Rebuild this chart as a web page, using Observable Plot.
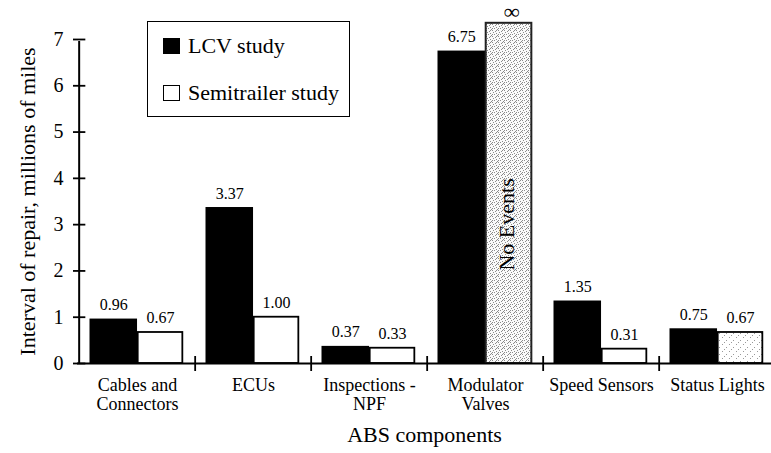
<!DOCTYPE html>
<html>
<head>
<meta charset="utf-8">
<script src="https://cdn.jsdelivr.net/npm/d3@7"></script>
<script src="https://cdn.jsdelivr.net/npm/@observablehq/plot@0.6"></script>
<style>
  html, body { margin: 0; padding: 0; background: #fff; }
  #wrap { position: relative; width: 771px; height: 453px; overflow: hidden; font-family: "Liberation Serif", "Times New Roman", serif; }
  #legend { position: absolute; left: 147px; top: 21px; width: 201px; height: 94px; border: 1.6px solid #000; background: #fff; }
  .item { position: absolute; left: 15px; display: flex; align-items: center; font-size: 22px; color: #000; }
  .sw { width: 17px; height: 16px; margin-right: 8px; box-sizing: border-box; }
</style>
</head>
<body>
<div id="wrap">
  <div id="chart"></div>
  <div id="legend">
    <div class="item" style="top:11px"><span class="sw" style="background:#000"></span><span id="lg0"></span></div>
    <div class="item" style="top:58px"><span class="sw" style="border:1.3px solid #000;background:#fff"></span><span id="lg1"></span></div>
  </div>
</div>
<script>
// ---- data ----
const categories = ["Cables and Connectors", "ECUs", "Inspections - NPF", "Modulator Valves", "Speed Sensors", "Status Lights"];
const categoryLabels = ["Cables and\nConnectors", "ECUs", "Inspections -\nNPF", "Modulator\nValves", "Speed Sensors", "Status Lights"];
const lcvValues = [0.96, 3.37, 0.37, 6.75, 1.35, 0.75];
const semiValues = [0.67, 1.00, 0.33, null, 0.31, 0.67];
const lcvLabels = ["0.96", "3.37", "0.37", "6.75", "1.35", "0.75"];
const semiLabels = ["0.67", "1.00", "0.33", null, "0.31", "0.67"];
const seriesNames = ["LCV study", "Semitrailer study"];
const yTicks = [0, 1, 2, 3, 4, 5, 6, 7];
const noEventsCategory = "Modulator Valves";
const noEventsTop = 7.35;          // open-ended bar drawn past the top of the axis
const noEventsText = "No Events";
const infinityText = "\u221E";
const stippledCategory = "Status Lights";
const xTitle = "ABS components";
const yTitle = "Interval of repair, millions of miles";

// ---- layout constants ----
const W = 771, H = 453;
const xRange = [77, 777];
const step = (xRange[1] - xRange[0]) / categories.length;
const lcvL = 10.5, lcvR = 58.7, semiL = 58.7, semiR = 104;
const lcvDx = (lcvL + lcvR) / 2 - step / 2;
const semiDx = (semiL + semiR) / 2 - step / 2;
const font = "Liberation Serif, Times New Roman, serif";

document.getElementById("lg0").textContent = seriesNames[0];
document.getElementById("lg1").textContent = seriesNames[1];

const rows = categories.map((c, i) => ({
  category: c, label: categoryLabels[i],
  lcv: lcvValues[i], semi: semiValues[i],
  lcvLabel: lcvLabels[i], semiLabel: semiLabels[i]
}));
const semiRows = rows.filter(d => d.semi != null);
const noEventRows = rows.filter(d => d.category === noEventsCategory);

const plot = Plot.plot({
  width: W, height: H,
  marginTop: 39, marginBottom: 90, marginLeft: 77, marginRight: 0,
  style: { fontFamily: font, background: "white", color: "black", overflow: "visible" },
  x: { domain: categories, range: xRange, padding: 0, axis: null },
  y: { domain: [0, 7], axis: null },
  marks: [
    // LCV bars
    Plot.barY(rows, { x: "category", y: "lcv", fill: "black", insetLeft: lcvL, insetRight: step - lcvR }),
    // Semitrailer bars
    Plot.barY(semiRows, {
      x: "category", y: "semi",
      fill: d => d.category === stippledCategory ? "url(#stipLight)" : "white",
      stroke: "black", strokeWidth: 1.8,
      insetLeft: semiL, insetRight: step - semiR
    }),
    // No events bar
    Plot.barY(noEventRows, {
      x: "category", y: () => noEventsTop,
      fill: "url(#stipDense)", stroke: "#222", strokeWidth: 2,
      insetLeft: semiL, insetRight: step - semiR - 1
    }),
    // value labels
    Plot.text(rows, { x: "category", y: "lcv", text: "lcvLabel", dx: lcvDx, dy: -9, lineAnchor: "bottom", fontSize: 16, fill: "black" }),
    Plot.text(semiRows, { x: "category", y: "semi", text: "semiLabel", dx: semiDx, dy: -9, lineAnchor: "bottom", fontSize: 16, fill: "black" }),
    Plot.text(noEventRows, { x: "category", y: () => noEventsTop, text: () => infinityText, dx: semiDx + 3, dy: -4, lineAnchor: "bottom", fontSize: 22, fontWeight: "bold", fill: "black" }),
    Plot.text(noEventRows, { x: "category", y: () => noEventsTop / 2, text: () => noEventsText, dx: semiDx - 2, dy: 31, rotate: -90, fontSize: 22, fill: "black" }),
    // axes lines
    Plot.ruleY([0], { y: d => d, stroke: "black", strokeWidth: 2 }),
    Plot.ruleX([categories[0]], { x: d => d, dx: -step / 2, y1: 0, y2: 7, stroke: "black", strokeWidth: 2, insetBottom: -2 }),
    // y ticks crossing the axis
    Plot.tickY(yTicks, { y: d => d, x: () => categories[0], insetLeft: -6, insetRight: step - 7, stroke: "black", strokeWidth: 1.8 }),
    // category boundary ticks
    Plot.ruleX(categories.slice(1), { x: d => d, dx: -step / 2, y1: 0, y2: 0, insetTop: -7, insetBottom: -8, stroke: "black", strokeWidth: 1.8 }),
    // y tick labels
    Plot.text(yTicks, { y: d => d, text: d => String(d), frameAnchor: "left", dx: -14, textAnchor: "end", fontSize: 20, fill: "black" }),
    // category labels
    Plot.text(rows, { x: "category", text: "label", frameAnchor: "bottom", dy: 13, lineAnchor: "top", lineHeight: 1.1, fontSize: 18, fill: "black" }),
    // titles
    Plot.text([xTitle], { text: d => d, frameAnchor: "bottom", dy: 78, fontSize: 22, fill: "black" }),
    Plot.text([yTitle], { text: d => d, frameAnchor: "left", textAnchor: "middle", dx: -50, rotate: -90, fontSize: 22, fill: "black" })
  ]
});

// stipple patterns
const svg = d3.select(plot);
const defs = svg.insert("defs", ":first-child");
const dense = defs.append("pattern").attr("id", "stipDense").attr("patternUnits", "userSpaceOnUse").attr("width", 6).attr("height", 6);
dense.append("rect").attr("width", 6).attr("height", 6).attr("fill", "#fafafa");
[[0,0],[3,1],[1,2],[4,3],[2,4],[5,5],[0,4],[4,0]].forEach(([a,b]) => dense.append("rect").attr("x", a).attr("y", b).attr("width", 1).attr("height", 1).attr("fill", "#8a8a8a"));
const light = defs.append("pattern").attr("id", "stipLight").attr("patternUnits", "userSpaceOnUse").attr("width", 7).attr("height", 7);
light.append("rect").attr("width", 7).attr("height", 7).attr("fill", "#fff");
[[1,1],[5,4],[3,6]].forEach(([a,b]) => light.append("rect").attr("x", a).attr("y", b).attr("width", 1).attr("height", 1).attr("fill", "#999"));

document.getElementById("chart").appendChild(plot);
</script>
</body>
</html>
